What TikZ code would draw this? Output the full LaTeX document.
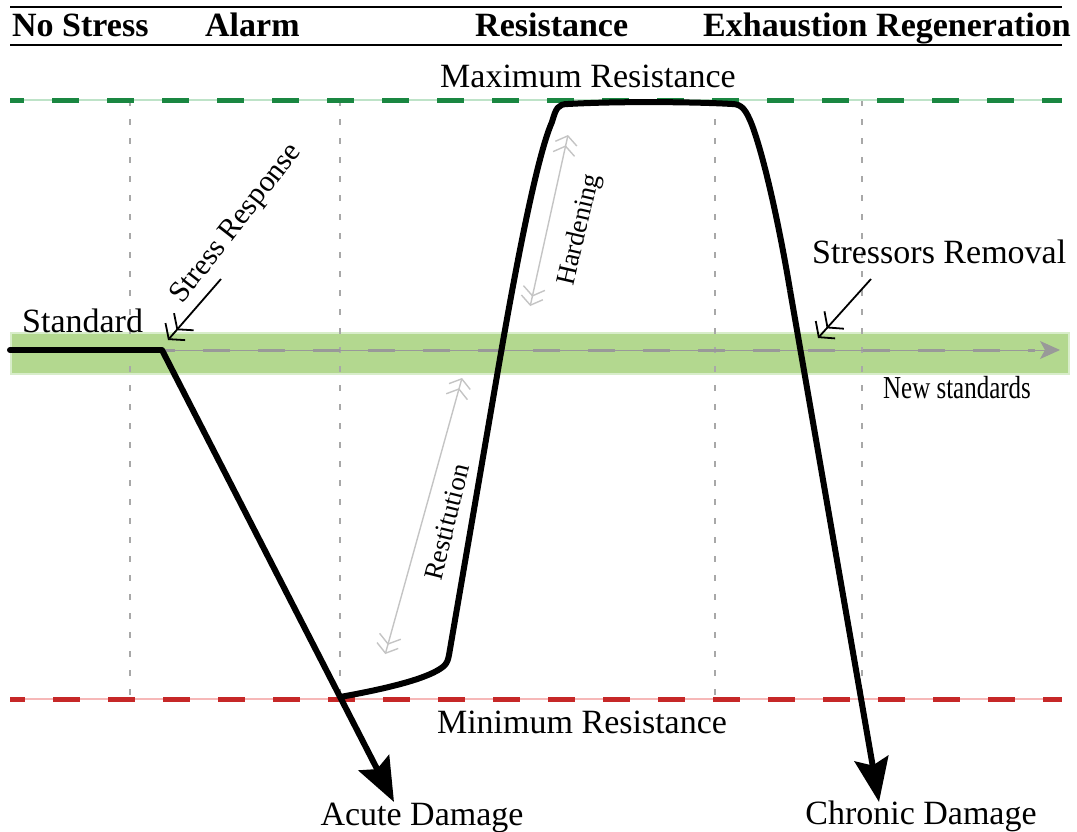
\documentclass[tikz,border=0pt]{standalone}
\usepackage{fontspec}
\setmainfont{Liberation Serif}
\usepackage{graphicx}
\usetikzlibrary{arrows.meta}
\definecolor{gdash}{RGB}{26,135,65}
\definecolor{glight}{RGB}{190,227,200}
\definecolor{rdash}{RGB}{198,40,40}
\definecolor{rlight}{RGB}{246,184,184}
\definecolor{band}{RGB}{179,216,143}
\definecolor{bandedge}{RGB}{216,237,202}
\definecolor{gridgray}{RGB}{168,168,168}
\definecolor{arrgray}{RGB}{153,153,153}
\definecolor{lgray}{RGB}{196,196,196}
\begin{document}
\begin{tikzpicture}[x=1pt,y=-1pt,
  lbl/.style={inner sep=0pt, font=\fontsize{34}{40}\selectfont},
  hdr/.style={inner sep=0pt, font=\fontsize{34}{40}\selectfont\bfseries},
  rlbl/.style={inner sep=0pt, font=\fontsize{27}{32}\selectfont},
  vgrid/.style={draw=gridgray, line width=1.5pt, dash pattern=on 6pt off 13pt},
  rule/.style={draw=black, line width=2pt},
  thickdash/.style={line width=5pt, dash pattern=on 27pt off 28pt},
  curve/.style={draw=black, line width=6pt, line join=round},
  bigtip/.style={-{Stealth[length=44pt,width=34pt,inset=7pt]}},
  dbltip/.style={draw=black, line width=1.8pt, -{Straight Barb[length=10pt,width=26pt,sep=1pt] Straight Barb[length=10pt,width=26pt]}},
  graydbl/.style={draw=lgray, line width=1.4pt, {Straight Barb[length=8pt,width=22pt,sep=1pt] Straight Barb[length=8pt,width=22pt]}-{Straight Barb[length=8pt,width=22pt,sep=1pt] Straight Barb[length=8pt,width=22pt]}}
]
\useasboundingbox (0,0) rectangle (1077,831);

% header
\coordinate (r1a) at (10,7);  \coordinate (r1b) at (1062,7);
\coordinate (r2a) at (10,45); \coordinate (r2b) at (1062,45);
\draw[rule] (r1a) -- (r1b);
\draw[rule] (r2a) -- (r2b);
\node[hdr, anchor=base west] (hNo) at (12,36) {No Stress};
\node[hdr, anchor=base west] (hAl) at (205,36) {Alarm};
\node[hdr, anchor=base west] (hRe) at (475,36) {Resistance};
\node[hdr, anchor=base west] (hEx) at (703,36) {Exhaustion};
\node[hdr, anchor=base west] (hRg) at (876,36) {Regeneration};

% green band
\node[draw=bandedge, fill=band, line width=1.5pt, inner sep=0pt, minimum width=1058pt, minimum height=41pt, anchor=north west] (bandbox) at (10,332) {};

% vertical grid
\foreach \xx/\nm in {130/va, 340/vb, 715/vc, 862/vd} {
  \coordinate (\nm t) at (\xx,100);
  \coordinate (\nm b) at (\xx,699);
  \draw[vgrid] (\nm t) -- (\nm b);
}

% max / min lines
\coordinate (gl) at (10,100); \coordinate (gr) at (1062,100);
\coordinate (rl) at (10,699); \coordinate (rr) at (1062,699);
\draw[glight, line width=1.5pt] (gl) -- (gr);
\draw[gdash, thickdash, dash phase=13pt] (gl) -- (gr);
\draw[rlight, line width=1.5pt] (rl) -- (rr);
\draw[rdash, thickdash, dash phase=12pt] (rl) -- (rr);

% new standards gray arrow
\coordinate (ns0) at (163,350); \coordinate (ns1) at (1060,350);
\draw[arrgray, line width=1pt, -{Stealth[length=20pt,width=18pt,inset=5pt]}] (ns0) -- (ns1);
\draw[arrgray, line width=3pt, dash pattern=on 27pt off 28pt, dash phase=15pt] (ns0) -- (1035,350);

% labels
\node[lbl, anchor=base] (maxR) at (588,87) {Maximum Resistance};
\node[lbl, anchor=base] (minR) at (582,733) {Minimum Resistance};
\node[lbl, anchor=base west] (std) at (22,332) {Standard};
\node[lbl, anchor=base west] (srem) at (812,263) {Stressors Removal};
\node[lbl, anchor=base west] (news) at (883,398) {\scalebox{0.78}[1]{\fontsize{32}{38}\selectfont New standards}};
\node[lbl, anchor=base] (acute) at (422,825) {Acute Damage};
\node[lbl, anchor=base] (chron) at (921,824) {Chronic Damage};
\node[lbl, rotate=52, font=\fontsize{30}{36}\selectfont] (sresp) at (237,224) {Stress Response};
\node[rlbl, rotate=77] (hard) at (580,230) {Hardening};
\node[rlbl, rotate=76] (rest) at (447,522) {Restitution};

% black curve
\coordinate (p0) at (10,350);
\coordinate (p1) at (162,350);
\coordinate (pA) at (394,802);
\coordinate (pm) at (340,697);
\coordinate (pc) at (449,655);
\coordinate (pu) at (498,370);
\coordinate (ptl) at (568,104);
\coordinate (ptr) at (732,104);
\coordinate (pd) at (790,290);
\coordinate (pC) at (879,802);
\draw[curve, line cap=round] (p0) -- (p1);
\draw[curve, bigtip] (p1) -- (pA);
\draw[curve] (pm) .. controls (390,688) and (430,678) .. (444,666)
  .. controls (447,663) and (448,660) .. (pc)
  -- (pu)
  .. controls (510,300) and (535,160) .. (552,122)
  .. controls (556,108) and (558,104) .. (ptl)
  .. controls (620,101) and (700,102) .. (ptr)
  .. controls (742,104) and (746,110) .. (752,125)
  .. controls (765,160) and (780,230) .. (pd);
\draw[curve, bigtip] (pd) -- (pC);

% annotation arrows
\coordinate (sa0) at (221,279); \coordinate (sa1) at (168,340);
\draw[dbltip] (sa0) -- (sa1);
\coordinate (sb0) at (871,279); \coordinate (sb1) at (818,338);
\draw[dbltip] (sb0) -- (sb1);
\coordinate (h0) at (530,307); \coordinate (h1) at (568,135);
\draw[graydbl] (h0) -- (h1);
\coordinate (q0) at (385,655); \coordinate (q1) at (462,378);
\draw[graydbl] (q0) -- (q1);
\end{tikzpicture}
\end{document}
